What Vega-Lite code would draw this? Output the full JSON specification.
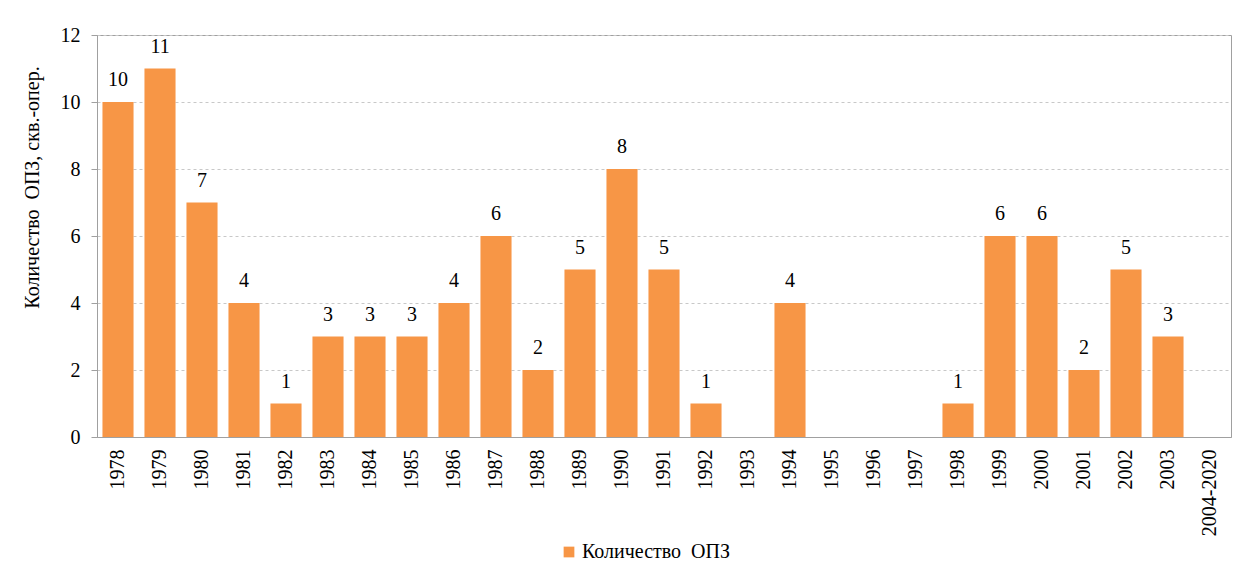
{
  "$schema": "https://vega.github.io/schema/vega-lite/v6.json",
  "width": 1134,
  "height": 402,
  "autosize": "none",
  "padding": {"left": 97, "top": 35, "right": 13, "bottom": 129},
  "background": "white",
  "config": {
    "font": "Liberation Serif",
    "axis": {"labelFont": "Liberation Serif", "titleFont": "Liberation Serif"},
    "legend": {"labelFont": "Liberation Serif"},
    "view": {"stroke": "#a0a0a0", "strokeWidth": 1}
  },
  "data": {
    "values": [
      {"year": "1978", "n": 10},
      {"year": "1979", "n": 11},
      {"year": "1980", "n": 7},
      {"year": "1981", "n": 4},
      {"year": "1982", "n": 1},
      {"year": "1983", "n": 3},
      {"year": "1984", "n": 3},
      {"year": "1985", "n": 3},
      {"year": "1986", "n": 4},
      {"year": "1987", "n": 6},
      {"year": "1988", "n": 2},
      {"year": "1989", "n": 5},
      {"year": "1990", "n": 8},
      {"year": "1991", "n": 5},
      {"year": "1992", "n": 1},
      {"year": "1993", "n": 0},
      {"year": "1994", "n": 4},
      {"year": "1995", "n": 0},
      {"year": "1996", "n": 0},
      {"year": "1997", "n": 0},
      {"year": "1998", "n": 1},
      {"year": "1999", "n": 6},
      {"year": "2000", "n": 6},
      {"year": "2001", "n": 2},
      {"year": "2002", "n": 5},
      {"year": "2003", "n": 3},
      {"year": "2004-2020", "n": 0}
    ]
  },
  "encoding": {
    "x": {
      "field": "year",
      "type": "nominal",
      "sort": null,
      "scale": {"paddingInner": 0.26, "paddingOuter": 0.13},
      "axis": {
        "title": null,
        "labelAngle": -90,
        "labelFontSize": 20,
        "labelColor": "black",
        "labelPadding": 12,
        "ticks": false,
        "domain": true,
        "domainColor": "#a0a0a0"
      }
    },
    "y": {
      "field": "n",
      "type": "quantitative",
      "scale": {"domain": [0, 12]},
      "axis": {
        "title": "Количество\u2002ОПЗ, скв.-опер.",
        "titleFontSize": 20,
        "titleFontWeight": "normal",
        "titleColor": "black",
        "titleAngle": -90,
        "titleAlign": "center",
        "titleBaseline": "bottom",
        "titleX": -55,
        "titleY": 152,
        "values": [0, 2, 4, 6, 8, 10, 12],
        "labelFontSize": 20,
        "labelColor": "black",
        "labelPadding": 11,
        "tickSize": 6,
        "tickColor": "#a0a0a0",
        "domainColor": "#a0a0a0",
        "gridColor": "#c8c8c8",
        "gridDash": [3, 3]
      }
    }
  },
  "layer": [
    {
      "mark": {"type": "bar", "color": "#F79646"},
      "encoding": {
        "color": {
          "datum": "Количество\u2002ОПЗ",
          "type": "nominal",
          "scale": {"range": ["#F79646"]},
          "legend": {
            "title": null,
            "orient": "none",
            "legendX": 462,
            "legendY": 507,
            "symbolType": "square",
            "symbolSize": 115,
            "symbolStrokeWidth": 0,
            "labelFontSize": 20,
            "labelColor": "black",
            "labelOffset": 3
          }
        }
      }
    },
    {
      "transform": [{"filter": "datum.n > 0"}],
      "mark": {"type": "text", "baseline": "alphabetic", "dy": -16, "fontSize": 20, "color": "black", "font": "Liberation Serif"},
      "encoding": {"text": {"field": "n", "type": "quantitative"}}
    }
  ]
}
